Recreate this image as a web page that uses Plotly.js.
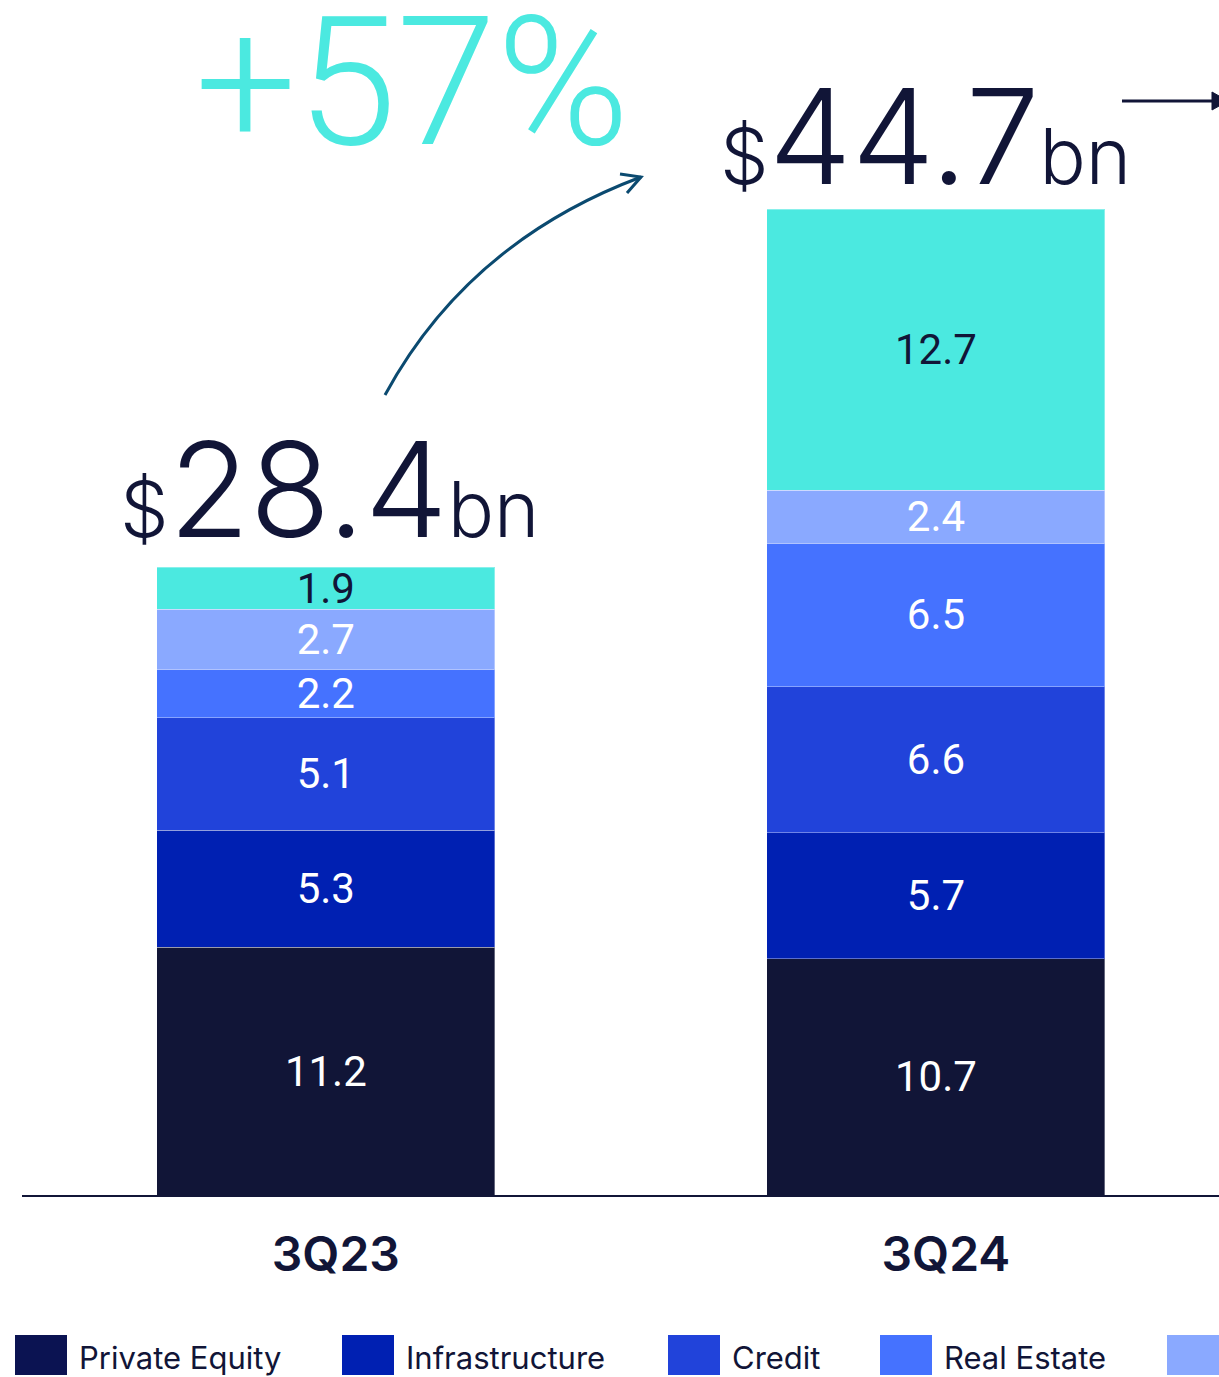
<!DOCTYPE html>
<html>
<head>
<meta charset="utf-8">
<script src="https://cdn.plot.ly/plotly-3.0.1.min.js"></script>
<style>
html, body { margin: 0; padding: 0; background: #ffffff; overflow: hidden; }
#chart { width: 1219px; height: 1377px; }
</style>
</head>
<body>
<div id="chart"></div>
<script>
// ---- Data ----
const categories = ['3Q23', '3Q24'];
const seriesNames = ['Private Equity', 'Infrastructure', 'Credit', 'Real Estate', 'Multi-Asset', 'Secondaries'];
const privateEquity = [11.2, 10.7];
const infrastructure = [5.3, 5.7];
const credit = [5.1, 6.6];
const realEstate = [2.2, 6.5];
const multiAsset = [2.7, 2.4];
const secondaries = [1.9, 12.7];
const totals = [28.4, 44.7];   // reported totals ($bn)

// ---- Styles ----
const NAVY = '#111537';
const seriesColors = ['#111537', '#0020b2', '#2143da', '#4572ff', '#8aa9ff', '#4be9e0'];
const legendColors = ['#0b1352', '#0020b2', '#2143da', '#4572ff', '#8aa9ff', '#4be9e0'];
const textColors = ['#ffffff', '#ffffff', '#ffffff', '#ffffff', '#ffffff', '#111537'];
const seriesValues = [privateEquity, infrastructure, credit, realEstate, multiAsset, secondaries];

const W = 1219, H = 1377;
const M = { l: 22, r: 0, t: 0, b: 182 };
const plotW = W - M.l - M.r, plotH = H - M.t - M.b;
const px = x => (x - M.l) / plotW;          // pixel x -> paper
const py = y => 1 - (y - M.t) / plotH;      // pixel y -> paper

const traces = seriesValues.map((vals, i) => ({
  type: 'bar',
  name: seriesNames[i],
  x: categories,
  y: vals,
  width: 0.554,
  marker: { color: seriesColors[i], line: { width: 1, color: 'rgba(255,255,255,0.35)' } },
  text: vals.map(v => v.toFixed(1)),
  textposition: 'inside',
  insidetextanchor: 'middle',
  constraintext: 'none',
  textangle: 0,
  textfont: { family: 'Roboto, Inter, sans-serif', size: 42, color: textColors[i] },
  showlegend: false,
  hoverinfo: 'skip'
}));

const growth = Math.round((totals[1] / totals[0] - 1) * 100);

const annotations = [];
const totalShifts = [[4, -4], [-10, -11]];
totals.forEach((t, j) => {
  annotations.push({
    xref: 'x', yref: 'y', x: categories[j], y: t,
    xanchor: 'center', yanchor: 'bottom',
    xshift: totalShifts[j][0], yshift: totalShifts[j][1],
    showarrow: false,
    text: '<span style="font-size:77px">$</span>' + t.toFixed(1) + '<span style="font-size:77px">bn</span>',
    font: { family: 'Inter, sans-serif', size: 132, color: NAVY, weight: 300 }
  });
});
annotations.push({
  xref: 'paper', yref: 'paper', x: px(412), y: py(83),
  xanchor: 'center', yanchor: 'middle', showarrow: false,
  text: '+' + growth + '%',
  font: { family: 'Roboto, Inter, sans-serif', size: 180, color: '#4be9e0', weight: 300 }
});

// legend (custom, matching swatch sizes)
const legendX = [15, 342, 668, 880, 1167];
const shapes = [];
legendX.forEach((x0, i) => {
  shapes.push({
    type: 'rect', xref: 'paper', yref: 'paper',
    x0: px(x0), x1: px(x0 + 52), y0: py(1375), y1: py(1335),
    fillcolor: legendColors[i], line: { width: 0 }
  });
  if (x0 + 64 < W - 100) {
    annotations.push({
      xref: 'paper', yref: 'paper', x: px(x0 + 62), y: py(1357),
      xanchor: 'left', yanchor: 'middle', showarrow: false,
      text: seriesNames[i],
      font: { family: 'Inter, sans-serif', size: 31, color: NAVY }
    });
  }
});

// curved growth arrow
const p = (x, y) => px(x).toFixed(5) + ',' + py(y).toFixed(5);
shapes.push({
  type: 'path', xref: 'paper', yref: 'paper',
  path: 'M' + p(385, 395) + ' Q' + p(468, 242) + ' ' + p(641, 177),
  line: { color: '#0b4a70', width: 3 }
});
shapes.push({
  type: 'path', xref: 'paper', yref: 'paper',
  path: 'M' + p(620, 174) + ' L' + p(641, 177) + ' L' + p(627, 193),
  line: { color: '#0b4a70', width: 3 }
});
// top-right arrow
shapes.push({
  type: 'path', xref: 'paper', yref: 'paper',
  path: 'M' + p(1122, 101) + ' L' + p(1213, 101),
  line: { color: NAVY, width: 3 }
});
shapes.push({
  type: 'path', xref: 'paper', yref: 'paper',
  path: 'M' + p(1212, 92) + ' L' + p(1228, 101) + ' L' + p(1212, 110) + ' Z',
  fillcolor: NAVY, line: { color: NAVY, width: 1 }
});

const layout = {
  width: W, height: H,
  margin: M,
  paper_bgcolor: '#ffffff', plot_bgcolor: '#ffffff',
  barmode: 'stack',
  showlegend: false,
  xaxis: {
    type: 'category', categoryarray: categories,
    range: [-0.498, 1.464],
    showline: true, linecolor: NAVY, linewidth: 2,
    showgrid: false, zeroline: false,
    ticks: 'outside', ticklen: 16, tickcolor: 'rgba(0,0,0,0)',
    ticklabelshift: 10,
    tickfont: { family: 'Inter, sans-serif', size: 48, color: NAVY, weight: 600 }
  },
  yaxis: {
    range: [0, plotH / 22.1],
    showgrid: false, zeroline: false, showline: false, showticklabels: false, ticks: ''
  },
  annotations: annotations,
  shapes: shapes,
  hovermode: false
};

Plotly.newPlot('chart', traces, layout, { staticPlot: true, displayModeBar: false });
</script>
</body>
</html>
